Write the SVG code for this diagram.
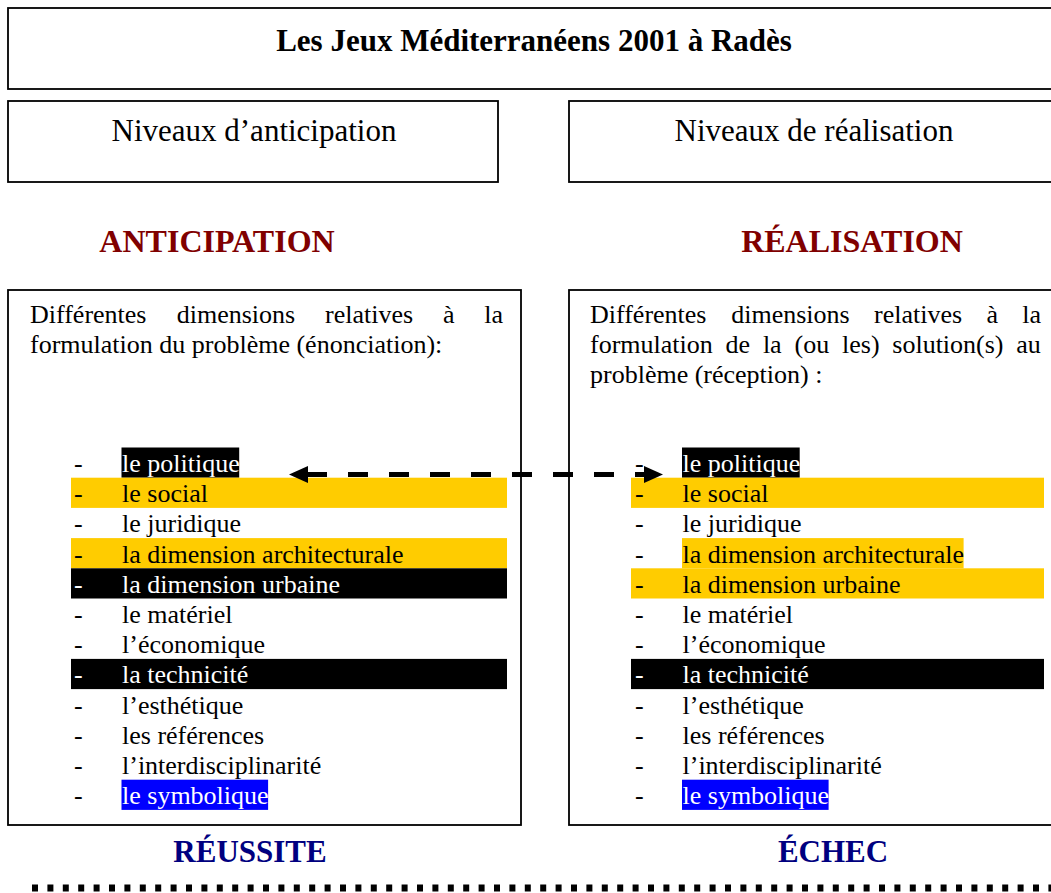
<svg xmlns="http://www.w3.org/2000/svg" width="1051" height="893" viewBox="0 0 1051 893">
<style>
.box{fill:#fff;stroke:#000;stroke-width:1.8}
.t{font-family:'Liberation Serif','Times New Roman',serif;fill:#000}
.title{font-size:31px;font-weight:bold}
.lvl{font-size:31px}
.head{font-size:32px;font-weight:bold;fill:#800000}
.foot{font-size:31px;font-weight:bold;fill:#000080}
.body{font-size:26px}
.w{fill:#fff}
.yel{fill:#FFCC00}
.blk{fill:#000}
.blu{fill:#0000FF}
.arrow{stroke:#000;stroke-width:5;fill:none;stroke-dasharray:20 21}
</style>
<rect width="1051" height="893" fill="#fff"/>

<g id="title">
<rect class="box" x="8" y="8" width="1060" height="81"/>
<text class="t title" x="534" y="51" text-anchor="middle">Les Jeux Méditerranéens 2001 à Radès</text>
</g>

<g id="niveaux-anticipation">
<rect class="box" x="8" y="101" width="490" height="81"/>
<text class="t lvl" x="254" y="141" text-anchor="middle">Niveaux d’anticipation</text>
</g>

<g id="niveaux-realisation">
<rect class="box" x="569" y="101" width="500" height="81"/>
<text class="t lvl" x="814" y="141" text-anchor="middle">Niveaux de réalisation</text>
</g>

<g id="label-anticipation">
<text class="t head" x="217" y="252" text-anchor="middle">ANTICIPATION</text>
</g>
<g id="label-realisation">
<text class="t head" x="852" y="252" text-anchor="middle">RÉALISATION</text>
</g>

<g id="box-anticipation">
<rect class="box" x="8" y="290" width="513" height="535"/>
<text class="t body" y="323"><tspan x="30">Différentes</tspan><tspan x="176.7">dimensions</tspan><tspan x="325">relatives</tspan><tspan x="442.9">à</tspan><tspan x="484.2">la</tspan></text>
<text class="t body" x="30" y="353">formulation du problème (énonciation):</text>
<rect class="blk" x="121.5" y="447.5" width="117.7" height="30.2"/>
<rect class="yel" x="71" y="477.7" width="436" height="30.2"/>
<rect class="yel" x="71" y="538.1" width="436" height="30.2"/>
<rect class="blk" x="71" y="568.3" width="436" height="30.2"/>
<rect class="blk" x="71" y="658.9" width="436" height="30.2"/>
<rect class="blu" x="121.5" y="779.7" width="146.6" height="30.2"/>
<g class="t body">
<text x="74" y="472">-</text><text class="w" x="122" y="472">le politique</text>
<text x="74" y="502.2">-</text><text x="122" y="502.2">le social</text>
<text x="74" y="532.4">-</text><text x="122" y="532.4">le juridique</text>
<text x="74" y="562.6">-</text><text x="122" y="562.6">la dimension architecturale</text>
<text class="w" x="74" y="592.8">-</text><text class="w" x="122" y="592.8">la dimension urbaine</text>
<text x="74" y="623">-</text><text x="122" y="623">le matériel</text>
<text x="74" y="653.2">-</text><text x="122" y="653.2">l’économique</text>
<text class="w" x="74" y="683.4">-</text><text class="w" x="122" y="683.4">la technicité</text>
<text x="74" y="713.6">-</text><text x="122" y="713.6">l’esthétique</text>
<text x="74" y="743.8">-</text><text x="122" y="743.8">les références</text>
<text x="74" y="774">-</text><text x="122" y="774">l’interdisciplinarité</text>
<text x="74" y="804.2">-</text><text class="w" x="122" y="804.2">le symbolique</text>
</g>
</g>

<g id="box-realisation">
<rect class="box" x="569" y="290" width="500" height="535"/>
<text class="t body" y="323"><tspan x="590">Différentes</tspan><tspan x="731.2">dimensions</tspan><tspan x="874">relatives</tspan><tspan x="986.4">à</tspan><tspan x="1022.2">la</tspan></text>
<text class="t body" y="353"><tspan x="590">formulation</tspan><tspan x="725.6">de</tspan><tspan x="762.9">la</tspan><tspan x="794.5">(ou</tspan><tspan x="842">les)</tspan><tspan x="892.3">solution(s)</tspan><tspan x="1016.3">au</tspan></text>
<text class="t body" x="590" y="383">problème (réception) :</text>
<rect class="blk" x="682" y="447.5" width="117.7" height="30.2"/>
<rect class="yel" x="631" y="477.7" width="413" height="30.2"/>
<rect class="yel" x="682" y="538.1" width="281.6" height="30.2"/>
<rect class="yel" x="631" y="568.3" width="413" height="30.2"/>
<rect class="blk" x="631" y="658.9" width="413" height="30.2"/>
<rect class="blu" x="682" y="779.7" width="146.6" height="30.2"/>
<g class="t body">
<text x="635" y="472">-</text><text class="w" x="682.5" y="472">le politique</text>
<text x="635" y="502.2">-</text><text x="682.5" y="502.2">le social</text>
<text x="635" y="532.4">-</text><text x="682.5" y="532.4">le juridique</text>
<text x="635" y="562.6">-</text><text x="682.5" y="562.6">la dimension architecturale</text>
<text x="635" y="592.8">-</text><text x="682.5" y="592.8">la dimension urbaine</text>
<text x="635" y="623">-</text><text x="682.5" y="623">le matériel</text>
<text x="635" y="653.2">-</text><text x="682.5" y="653.2">l’économique</text>
<text class="w" x="635" y="683.4">-</text><text class="w" x="682.5" y="683.4">la technicité</text>
<text x="635" y="713.6">-</text><text x="682.5" y="713.6">l’esthétique</text>
<text x="635" y="743.8">-</text><text x="682.5" y="743.8">les références</text>
<text x="635" y="774">-</text><text x="682.5" y="774">l’interdisciplinarité</text>
<text x="635" y="804.2">-</text><text class="w" x="682.5" y="804.2">le symbolique</text>
</g>
</g>

<g id="label-reussite">
<text class="t foot" x="250" y="862" text-anchor="middle">RÉUSSITE</text>
</g>
<g id="label-echec">
<text class="t foot" x="833" y="862" text-anchor="middle">ÉCHEC</text>
</g>

<g id="connectors">
<line class="arrow" x1="307" y1="474.5" x2="645" y2="474.5"/>
<polygon points="289,474.5 308,466 308,483" fill="#000"/>
<polygon points="663,474.5 644,466 644,483" fill="#000"/>
</g>

<g id="separator">
<line x1="32" y1="888" x2="1051" y2="888" stroke="#000" stroke-width="7" stroke-dasharray="6 9.4"/>
</g>
</svg>
